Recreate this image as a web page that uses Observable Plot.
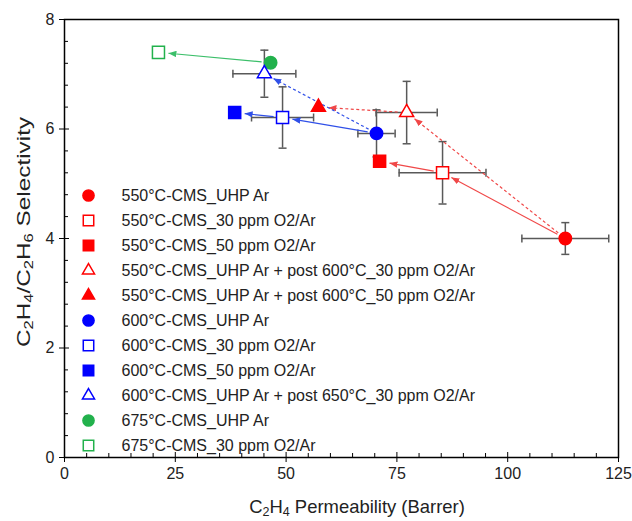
<!DOCTYPE html>
<html><head><meta charset="utf-8">
<script src="https://cdn.jsdelivr.net/npm/d3@7"></script>
<script src="https://cdn.jsdelivr.net/npm/@observablehq/plot@0.6"></script>
<style>
body{margin:0;background:#fff;font-family:"Liberation Sans",Arial,sans-serif;}
#wrap{position:relative;width:632px;height:521px;}
.ttl{position:absolute;font-size:19px;color:#222;white-space:nowrap;line-height:1;}
.ttl sub{font-size:0.68em;vertical-align:-0.3em;line-height:0;}
#xt{left:357px;top:506px;transform:translate(-50%,-50%) scaleX(0.97);}
#yt{left:23px;top:232px;transform:translate(-50%,-50%) rotate(-90deg) scaleX(1.28);}
</style></head><body>
<div id="wrap">
<div class="ttl" id="xt">C<sub>2</sub>H<sub>4</sub> Permeability (Barrer)</div>
<div class="ttl" id="yt">C<sub>2</sub>H<sub>4</sub>/C<sub>2</sub>H<sub>6</sub> Selectivity</div>
</div>
<script>
// ---- data ----
const labels = [
  "550°C-CMS_UHP Ar",
  "550°C-CMS_30 ppm O2/Ar",
  "550°C-CMS_50 ppm O2/Ar",
  "550°C-CMS_UHP Ar + post 600°C_30 ppm O2/Ar",
  "550°C-CMS_UHP Ar + post 600°C_50 ppm O2/Ar",
  "600°C-CMS_UHP Ar",
  "600°C-CMS_30 ppm O2/Ar",
  "600°C-CMS_50 ppm O2/Ar",
  "600°C-CMS_UHP Ar + post 650°C_30 ppm O2/Ar",
  "675°C-CMS_UHP Ar",
  "675°C-CMS_30 ppm O2/Ar"
];
const permeability = [113.0, 85.3, 71.1, 77.2, 57.3, 70.4, 49.2, 38.4, 45.1, 46.5, 21.2];
const selectivity  = [4.00, 5.20, 5.41, 6.30, 6.40, 5.92, 6.21, 6.30, 7.01, 7.21, 7.40];
const permError    = [9.8, 9.8, 0, 6.9, 0, 4.2, 7.0, 0, 7.1, 0, 0];
const selError     = [0.29, 0.57, 0, 0.57, 0, 0.43, 0.56, 0, 0.43, 0, 0];
const seriesColor  = ["#ff0000","#ff0000","#ff0000","#ff0000","#ff0000","#0000ff","#0000ff","#0000ff","#0000ff","#22b14c","#22b14c"];
const seriesShape  = ["circle","square","square","triangle","triangle","circle","square","square","triangle","circle","square"];
const seriesFilled = [true,false,true,false,true,true,false,true,false,true,false];
// arrows: from -> to
const arrowFrom   = [0, 1, 0, 3, 5, 6, 5, 9];
const arrowTo     = [1, 2, 3, 4, 6, 7, 8, 10];
const arrowDashed = [false,false,true,true,false,false,true,false];
const arrowColor  = ["#f04848","#f04848","#f04848","#f04848","#3050e8","#3050e8","#3050e8","#3cbf6a"];
const xMajor = [0, 25, 50, 75, 100, 125];
const yMajor = [0, 2, 4, 6, 8];
const xMinor = d3.range(0, 126, 5).filter(v => v % 25 !== 0);
const yMinor = d3.range(0, 8.01, 0.4).map(v => +v.toFixed(1)).filter(v => Math.abs(v/2 - Math.round(v/2)) > 1e-6);

// ---- layout ----
const W = 632, H = 521;
const M = {top: 19, right: 14, bottom: 64, left: 64};
const xDom = [0, 125], yDom = [0, 8];
const kx = (W - M.left - M.right) / (xDom[1] - xDom[0]);
const ky = (H - M.top - M.bottom) / (yDom[1] - yDom[0]);
const invX = px => xDom[0] + (px - M.left) / kx;
const invY = py => yDom[1] - (py - M.top) / ky;

const rSize = {circle: 6.2, square: 6.8, triangle: 5.2};
const rLegend = {circle: 5.6, square: 5.9, triangle: 4.5};

const rows = labels.map((label, i) => ({
  label, x: permeability[i], y: selectivity[i], ex: permError[i], ey: selError[i],
  color: seriesColor[i], shape: seriesShape[i], filled: seriesFilled[i]
}));
const xErr = rows.filter(d => d.ex > 0);
const yErr = rows.filter(d => d.ey > 0);
const xCaps = xErr.flatMap(d => [{x: d.x - d.ex, y: d.y}, {x: d.x + d.ex, y: d.y}]);
const yCaps = yErr.flatMap(d => [{x: d.x, y: d.y - d.ey}, {x: d.x, y: d.y + d.ey}]);

const vCap = {draw(ctx, size) { const h = Math.sqrt(size / Math.PI); ctx.moveTo(0, -h); ctx.lineTo(0, h); }};
const hCap = {draw(ctx, size) { const h = Math.sqrt(size / Math.PI); ctx.moveTo(-h, 0); ctx.lineTo(h, 0); }};

function shorten(a, b, s0, s1) {
  const dx = (b.x - a.x) * kx, dy = (b.y - a.y) * ky;
  const L = Math.hypot(dx, dy);
  const t0 = s0 / L, t1 = 1 - s1 / L;
  return {x1: a.x + (b.x - a.x) * t0, y1: a.y + (b.y - a.y) * t0,
          x2: a.x + (b.x - a.x) * t1, y2: a.y + (b.y - a.y) * t1};
}
const arrows = arrowFrom.map((f, i) => ({
  ...shorten(rows[f], rows[arrowTo[i]], 9, 10),
  dashed: arrowDashed[i], color: arrowColor[i]
}));

const head = (color) => d3.create("svg:marker")
  .attr("viewBox", "-8 -3.2 8 6.4").attr("markerWidth", 8).attr("markerHeight", 6.4)
  .attr("markerUnits", "userSpaceOnUse").attr("refX", 0).attr("refY", 0).attr("orient", "auto")
  .attr("fill", color).attr("stroke", "none")
  .call(m => m.append("path").attr("d", "M0,0L-8,-3.2L-8,3.2Z")).node();

const legend = rows.map((d, i) => ({
  ...d, lx: invX(88), tx: invX(121), ly: invY(195 + 25 * i), r: rLegend[d.shape]
}));

const arrowMarks = [false, true].map(dashed => Plot.link(arrows.filter(a => a.dashed === dashed), {
  x1: "x1", y1: "y1", x2: "x2", y2: "y2", stroke: "color", strokeWidth: 1.2,
  strokeDasharray: dashed ? "3,2.5" : null, markerEnd: head
}));

const chart = Plot.plot({
  width: W, height: H,
  marginTop: M.top, marginRight: M.right, marginBottom: M.bottom, marginLeft: M.left,
  style: {fontFamily: "'Liberation Sans', Arial, sans-serif", fontSize: "16px", color: "#222", background: "#fff"},
  x: {domain: xDom, label: null},
  y: {domain: yDom, label: null},
  color: {type: "identity"},
  r: {type: "identity"},
  symbol: {type: "identity"},
  marks: [
    Plot.axisX({ticks: xMinor, tickSize: -4, tickFormat: () => "", stroke: "black"}),
    Plot.axisX({ticks: xMajor, tickSize: -5, tickFormat: () => "", stroke: "black"}),
    Plot.axisX({ticks: xMajor, tickSize: 5, tickPadding: 5, fontSize: 16, fill: "#222", stroke: "black"}),
    Plot.axisY({ticks: yMinor, tickSize: -4, tickFormat: () => "", stroke: "black"}),
    Plot.axisY({ticks: yMajor, tickSize: -5, tickFormat: () => "", stroke: "black"}),
    Plot.axisY({ticks: yMajor, tickSize: 5, tickPadding: 5, fontSize: 16, fill: "#222", stroke: "black"}),
    Plot.frame({stroke: "black", strokeWidth: 1.5}),
    // error bars
    Plot.ruleY(xErr, {y: "y", x1: d => d.x - d.ex, x2: d => d.x + d.ex, stroke: "#595959", strokeWidth: 1.5}),
    Plot.ruleX(yErr, {x: "x", y1: d => d.y - d.ey, y2: d => d.y + d.ey, stroke: "#595959", strokeWidth: 1.5}),
    Plot.dot(xCaps, {x: "x", y: "y", symbol: vCap, r: 4, stroke: "#595959", strokeWidth: 1.5, fill: "none"}),
    Plot.dot(yCaps, {x: "x", y: "y", symbol: hCap, r: 4, stroke: "#595959", strokeWidth: 1.5, fill: "none"}),
    // arrows
    ...arrowMarks,
    // points
    Plot.dot(rows, {x: "x", y: "y", symbol: "shape", r: d => rSize[d.shape],
      fill: d => d.filled ? d.color : "white", stroke: "color", strokeWidth: 1.5}),
    // legend
    Plot.dot(legend, {x: "lx", y: "ly", symbol: "shape", r: "r",
      fill: d => d.filled ? d.color : "white", stroke: "color", strokeWidth: 1.5}),
    Plot.text(legend, {x: "tx", y: "ly", text: "label", textAnchor: "start", fontSize: 16, fill: "#222"})
  ]
});
document.getElementById("wrap").prepend(chart);
</script>
</body></html>
